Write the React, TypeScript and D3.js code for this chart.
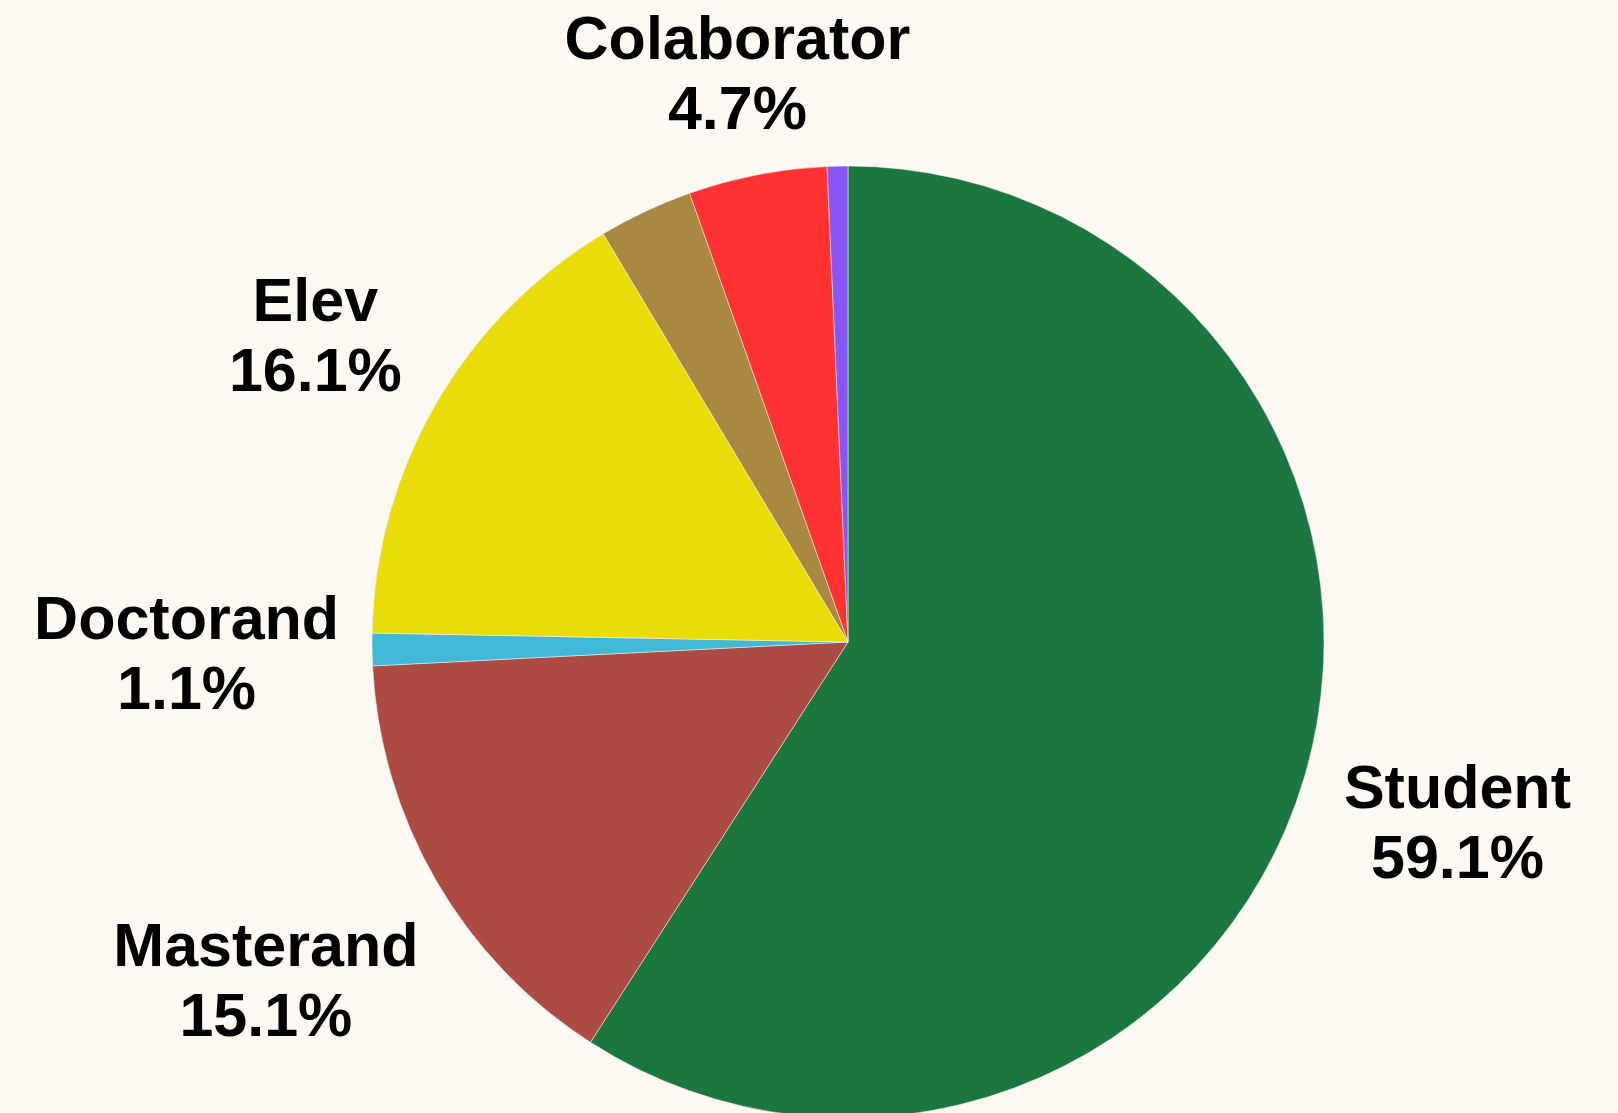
import React from "react";
import * as d3 from "d3";

const categories = ["Student", "Masterand", "Doctorand", "Elev", "Altul", "Colaborator", "Alt rol"];
const values = [59.1, 15.1, 1.1, 16.1, 3.2, 4.7, 0.7];
const showLabel = [true, true, true, true, false, true, false];
const colors = ["#1c763f", "#ab4b43", "#42b8d6", "#e9dc08", "#aa8841", "#fe3133", "#8a55f6"];

const W = 1618;
const H = 1113;
const CX = 848;
const CY = 642;
const R = 476;
const FONT = 61;
const LINE = 70;
const BG = "#fdf8f2";

function measure(text: string): number {
  const c = document.createElement("canvas");
  const ctx = c.getContext("2d");
  if (!ctx) return text.length * FONT * 0.6;
  ctx.font = `bold ${FONT}px "Liberation Sans", Arial, sans-serif`;
  return ctx.measureText(text).width;
}

export default function App() {
  const pie = d3.pie<number>().sort(null).value((d) => d);
  const arcs = pie(values);
  const arcGen = d3.arc<d3.PieArcDatum<number>>().innerRadius(0).outerRadius(R);
  const total = d3.sum(values);

  const labels = arcs
    .map((a, i) => {
      if (!showLabel[i]) return null;
      const mid = (a.startAngle + a.endAngle) / 2;
      const ux = Math.sin(mid);
      const uy = -Math.cos(mid);
      const pct = `${((values[i] / total) * 100).toFixed(1)}%`;
      const w = Math.max(measure(categories[i]), measure(pct));
      const h = 130;
      let dist = R + 32 + Math.abs(ux) * (w / 2) + Math.abs(uy) * (h / 2);
      let cx = ux * dist;
      let cy = uy * dist;
      const minY = 72;
      if (CY + cy < minY) {
        dist = (minY - CY) / uy;
        cx = ux * dist;
        cy = uy * dist;
      }
      return { i, x: CX + cx, y: CY + cy, name: categories[i], pct };
    })
    .filter((d) => d !== null) as { i: number; x: number; y: number; name: string; pct: string }[];

  return (
    <svg
      width={W}
      height={H}
      style={{ position: "absolute", left: 0, top: 0, display: "block" }}
    >
      <rect x={0} y={0} width={W} height={H} fill={BG} />
      <g transform={`translate(${CX},${CY})`}>
        {arcs.map((a, i) => (
          <path key={i} d={arcGen(a) || ""} fill={colors[i]} stroke={BG} strokeWidth={0.5} />
        ))}
      </g>
      {labels.map((l) => (
        <text
          key={l.i}
          textAnchor="middle"
          fontFamily='"Liberation Sans", Arial, sans-serif'
          fontWeight="bold"
          fontSize={FONT}
          fill="#000"
        >
          <tspan x={l.x} y={l.y - 13}>{l.name}</tspan>
          <tspan x={l.x} y={l.y - 13 + LINE}>{l.pct}</tspan>
        </text>
      ))}
    </svg>
  );
}
